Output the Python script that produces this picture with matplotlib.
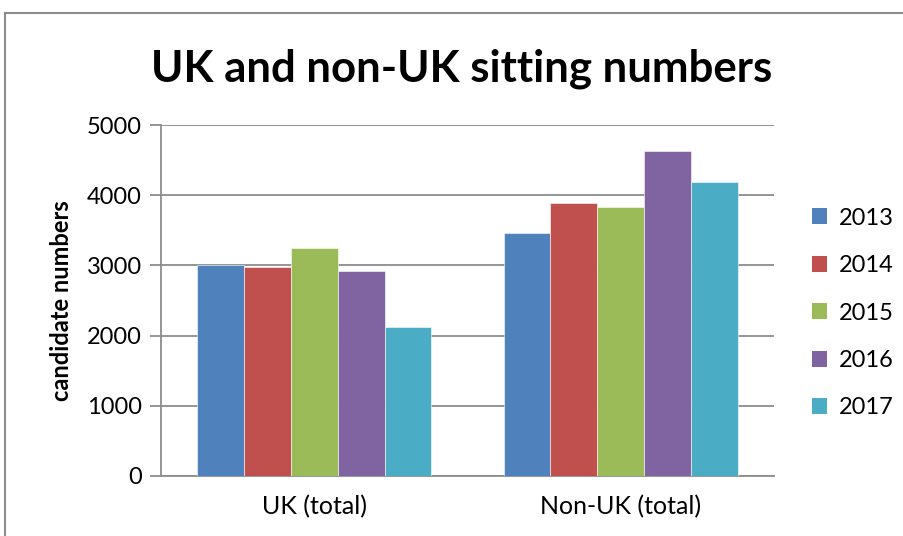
import numpy as np
import matplotlib.pyplot as plt
from matplotlib.lines import Line2D
from matplotlib.patches import Patch

categories = ['UK (total)', 'Non-UK (total)']
years = ['2013', '2014', '2015', '2016', '2017']
values = {
    '2013': [3005, 3465],
    '2014': [2975, 3890],
    '2015': [3245, 3835],
    '2016': [2925, 4635],
    '2017': [2125, 4195],
}
colors = ['#4F81BD', '#C0504D', '#9BBB59', '#8064A2', '#4BACC6']

plt.rcParams['font.family'] = ['Lato', 'DejaVu Sans']

fig = plt.figure(figsize=(9.04, 5.36), dpi=100)
ax = fig.add_axes([161 / 904, 60 / 536, 613 / 904, 351 / 536])

x = np.arange(len(categories))
bw = 0.153
for i, yr in enumerate(years):
    ax.bar(x + (i - 2) * bw, values[yr], width=bw, color=colors[i],
           edgecolor='white', linewidth=0.4, zorder=3, label=yr)

ax.set_xlim(-0.5, 1.5)
ax.set_ylim(0, 5000)
ax.set_yticks(range(0, 5001, 1000))
ax.set_xticks(x)
ax.set_xticklabels(categories)
ax.yaxis.grid(True, color='#8c8c8c', linewidth=1.3, zorder=0)
ax.set_axisbelow(True)

for s in ['top', 'right']:
    ax.spines[s].set_visible(False)
for s in ['left', 'bottom']:
    ax.spines[s].set_color('#8c8c8c')
    ax.spines[s].set_linewidth(1.3)
ax.tick_params(axis='y', length=8, width=1.3, color='#8c8c8c', labelsize=17, pad=6)
ax.tick_params(axis='x', length=0, labelsize=18, pad=14)

ax.set_ylabel('candidate numbers', fontsize=17, fontweight='bold', labelpad=10)

fig.text(462 / 904, 1 - 69 / 536, 'UK and non-UK sitting numbers', ha='center', va='center',
         fontsize=31.5, fontweight='bold')

handles = [Patch(facecolor=c, edgecolor='none') for c in colors]
fig.legend(handles, years, loc='center left', bbox_to_anchor=(812 / 904, 1 - 313 / 536),
           frameon=False, fontsize=17, handlelength=0.65, handleheight=0.65,
           handletextpad=0.5, labelspacing=1.12, borderpad=0, borderaxespad=0)

# chart border
fig.add_artist(Line2D([5 / 904, 5 / 904], [0, 1 - 13 / 536], color='#8c8c8c', linewidth=1.5))
fig.add_artist(Line2D([5 / 904, 1], [1 - 13 / 536, 1 - 13 / 536], color='#8c8c8c', linewidth=1.5))

fig.savefig('out.png', dpi=100)
